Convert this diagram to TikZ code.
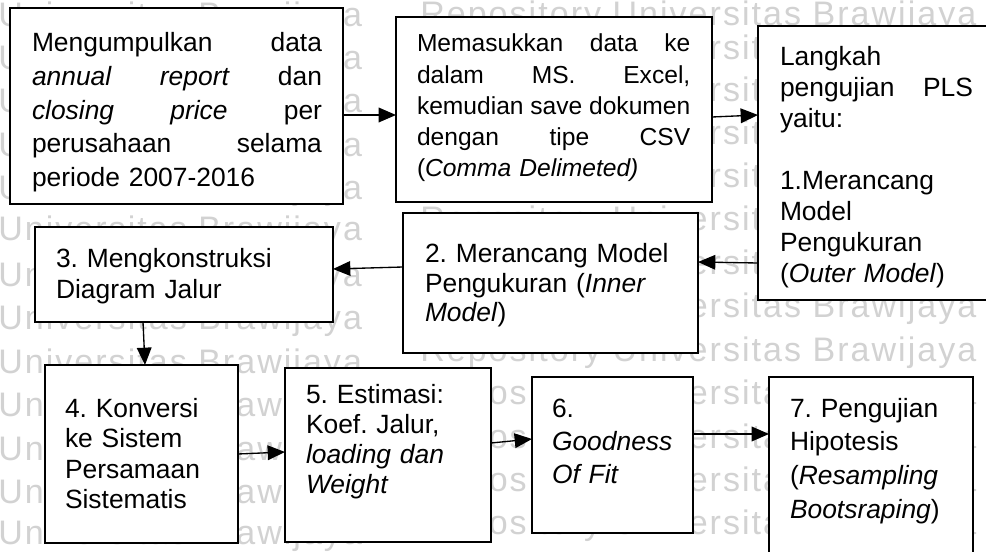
\documentclass[tikz,border=0pt]{standalone}
\usepackage{fontspec}
\setmainfont{Liberation Sans}
\newfontfamily\wmfont[LetterSpace=6,Kerning=Off]{Liberation Sans}
\usetikzlibrary{arrows.meta,fit,calc}
\setlength{\parindent}{0pt}
\frenchspacing
\definecolor{wmgray}{RGB}{210,210,210}
\newcommand{\setfs}[2]{\fontsize{#1}{#2}\selectfont}
% a justified line: words separated by \hfill inside a box of given width
\newcommand{\jline}[2]{\leavevmode\hbox to #1{#2}}

\begin{document}
\begin{tikzpicture}[x=0.75pt,y=-0.75pt,
  box/.style={draw=black, line width=1.9pt, fill=white, inner sep=0pt, outer sep=0pt},
  txt/.style={anchor=base west, inner sep=0pt, outer sep=0pt, align=left},
  link/.style={draw=black, line width=1pt, -{Triangle[length=13pt,width=11pt]}},
  wm/.style={anchor=base west, inner sep=0pt, text=wmgray, font=\wmfont\setfs{25.5pt}{25.5pt}}
]
\useasboundingbox (0,0) rectangle (986,552);
\clip (0,0) rectangle (986,552);
\fill[white] (0,0) rectangle (986,552);

% faint repository watermark: only the parts left uncovered by the boxes
\foreach \x/\y/\s [count=\n] in {
  -2/26.2/Universitas Brawijaya,
  -2/69.6/U, 342.8/69.6/a,
  -2/113/U, 342.8/113/a,
  -2/156.4/U, 342.8/156.4/a,
  -2/199.8/U, 293.2/199.8/jaya,
  -2/240.5/Universitas Brawijaya,
  -2/286.6/Un, 323.7/286.6/ya,
  -2/330/Universitas Brawijaya,
  -2/373.4/Universitas Brawijaya,
  -2/416.8/Uni, 236.1/416.8/awi,
  -2/460.2/Uni, 236.1/460.2/awi,
  -2/503.6/Uni, 236.1/503.6/awi,
  -2/544/Universitas Brawijaya,
  420/25.5/Repository Universitas Brawijaya,
  709.4/60/rsit,
  709.4/102/rsit,
  709.4/144.2/rsit,
  709.4/187.6/rsit,
  420/231/Repository Universit,
  688.5/274.4/ersit,
  688.5/317.8/ersitas Brawijaya,
  420/361.2/Repository Universitas Brawijaya,
  488.5/404.6/osi, 688.5/404.6/ersita, 957.1/404.6/a,
  488.5/448/osi, 688.5/448/ersita, 957.1/448/a,
  488.5/491.4/osi, 688.5/491.4/ersita, 957.1/491.4/a,
  488.5/534.8/ository Universita, 957.1/534.8/a}
  { \node[wm] (wm\n) at (\x,\y) {\s}; }

% step boxes
\node[box, fit={(10,8) (343,204)}] (A) {};
\node[box, fit={(396,17) (712,202)}] (B) {};
\node[box, fit={(758,26) (995,300)}] (C) {};
\node[box, fit={(403,213) (698,353)}] (D) {};
\node[box, fit={(35,227) (333,322)}] (E) {};
\node[box, fit={(45,365) (238,543)}] (F) {};
\node[box, fit={(285,368) (491,542)}] (G) {};
\node[box, fit={(532,377) (693,533)}] (H) {};
\node[box, fit={(769,377) (973,560)}] (I) {};

% box texts
\node[txt, text width=217.5pt, font=\setfs{19.8pt}{25.2pt}] (At) at (32,52)
  {\jline{217.5pt}{Mengumpulkan\hfill data}\\
   \jline{217.5pt}{\textit{annual}\hfill\textit{report}\hfill dan}\\
   \jline{217.5pt}{\textit{closing}\hfill\textit{price}\hfill per}\\
   \jline{217.5pt}{perusahaan\hfill selama}\\
   periode 2007-2016};
\node[txt, text width=205pt, font=\setfs{18.45pt}{23.4pt}] (Bt) at (417,52)
  {\jline{205pt}{Memasukkan\hfill data\hfill ke}\\
   \jline{205pt}{dalam\hfill MS.\hfill Excel,}\\
   \jline{205pt}{kemudian\hfill save\hfill dokumen}\\
   \jline{205pt}{dengan\hfill tipe\hfill CSV}\\
   (\textit{Comma Delimeted)}};
\node[txt, text width=144.75pt, font=\setfs{19.8pt}{23.25pt}] (Ct) at (780,66)
  {Langkah\\
   \jline{144.75pt}{pengujian\hfill PLS}\\
   yaitu:\\[23.25pt]
   1.Merancang\\
   Model\\
   Pengukuran\\
   (\textit{Outer Model})};
\node[txt, text width=195pt, font=\setfs{19.8pt}{22.1pt}] (Dt) at (425,263)
  {2. Merancang Model\\
   Pengukuran (\textit{Inner}\\
   \textit{Model})};
\node[txt, text width=195pt, font=\setfs{19.8pt}{23.25pt}] (Et) at (56,268)
  {3. Mengkonstruksi\\
   Diagram Jalur};
\node[txt, text width=120pt, font=\setfs{19.8pt}{23pt}] (Ft) at (65,417)
  {4. Konversi\\
   ke Sistem\\
   Persamaan\\
   Sistematis};
\node[txt, text width=128pt, font=\setfs{19.8pt}{22.5pt}] (Gt) at (306,403)
  {5. Estimasi:\\
   Koef. Jalur,\\
   \textit{loading dan}\\
   \textit{Weight}};
\node[txt, text width=100pt, font=\setfs{19.8pt}{25.1pt}] (Ht) at (552,417)
  {6.\\
   \textit{Goodness}\\
   \textit{Of Fit}};
\node[txt, text width=131pt, font=\setfs{19.8pt}{25.3pt}] (It) at (790,417)
  {7. Pengujian\\
   Hipotesis\\
   (\textit{Resampling}\\
   \textit{Bootsraping})};

% flow arrows
\draw[link] ($(A.east)+(0,9)$) -- ($(B.west)+(0,5.5)$);
\draw[link] ($(B.east)+(0,7.5)$) -- ($(C.west)+(0,-48)$);
\draw[link] ($(C.west)+(0,100)$) -- ($(D.east)+(0,-21)$);
\draw[link] ($(D.west)+(0,-16)$) -- ($(E.east)+(0,-5.5)$);
\draw[link] ($(E.south)+(-41,0)$) -- ($(F.north)+(3.5,0)$);
\draw[link] ($(F.east)+(0,0)$) -- ($(G.west)+(0,-3)$);
\draw[link] ($(G.east)+(0,-12)$) -- ($(H.west)+(0,-16)$);
\draw[link] ($(H.east)+(0,-21)$) -- ($(I.west)+(0,-34.5)$);
\end{tikzpicture}
\end{document}
